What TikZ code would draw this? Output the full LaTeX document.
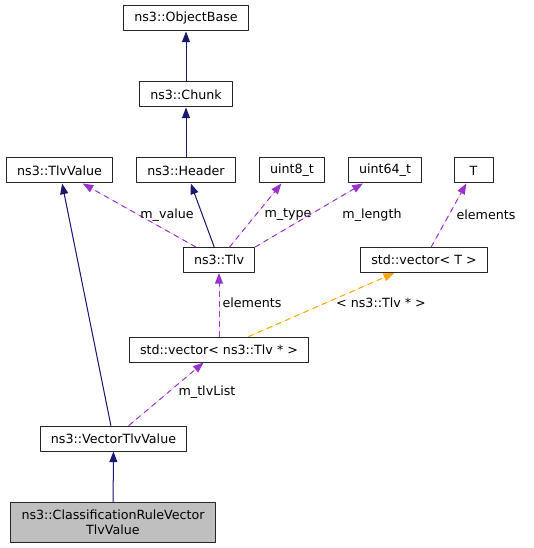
\documentclass[tikz,border=0pt]{standalone}
\usepackage{fontspec}
\setmainfont{DejaVu Sans}
\usetikzlibrary{arrows.meta}
\definecolor{midblue}{HTML}{191970}
\definecolor{usepurple}{HTML}{9A32CD}
\definecolor{tmplorange}{HTML}{FFA500}
\definecolor{grayfill}{HTML}{BFBFBF}

\begin{document}
\begin{tikzpicture}[line cap=round,line join=round,>={Triangle[length=8pt,width=6pt]},x=0.75pt,y=-0.75pt,
  cls/.style={draw=black!85,line width=0.75pt,fill=white,minimum height=18.75pt,inner xsep=8pt,inner ysep=0pt,font=\fontsize{9.5}{11.25}\selectfont},
  lbl/.style={inner sep=0pt,font=\fontsize{9.5}{11.25}\selectfont},
  inh/.style={->,draw=midblue,fill=midblue,line width=0.75pt},
  use/.style={->,draw=usepurple,fill=usepurple,line width=0.75pt,dash pattern=on 3.75pt off 3.75pt},
  tmpl/.style={->,draw=tmplorange,fill=tmplorange,line width=0.75pt,dash pattern=on 3.75pt off 3.75pt}]
\useasboundingbox (0,0) rectangle (533,548);
% classes
\node[cls] (objbase) at (186,18.5) {ns3::ObjectBase};
\node[cls] (chunk) at (186,94.5) {ns3::Chunk};
\node[cls] (tlvvalue) at (59.5,170.5) {ns3::TlvValue};
\node[cls] (header) at (186,170.5) {ns3::Header};
\node[cls] (uinteight) at (292,170.5) {uint8\_t};
\node[cls] (uintsixfour) at (385,170.5) {uint64\_t};
\node[cls,minimum width=29.25pt] (tparam) at (473.5,170.5) {T};
\node[cls] (tlv) at (219,260) {ns3::Tlv};
\node[cls] (vect) at (424,260) {std::vector< T >};
\node[cls] (vectlv) at (219,349.5) {std::vector< ns3::Tlv * >};
\node[cls] (vectlvvalue) at (113.5,438.5) {ns3::VectorTlvValue};
\node[cls,fill=grayfill,align=center,minimum height=30pt] (rule) at (113,522) {ns3::ClassificationRuleVector\\TlvValue};
% inheritance
\draw[inh] (chunk) -- (objbase);
\draw[inh] (header) -- (chunk);
\draw[inh] (tlv) -- (header);
\draw[inh] (vectlvvalue) -- (tlvvalue);
\draw[inh] (rule) -- (vectlvvalue);
% members
\draw[use] (tlv) -- (tlvvalue);
\node[lbl] (lvalue) at (167,215) {m\_value};
\draw[use] (tlv) -- (uinteight);
\node[lbl] (ltype) at (288,215) {m\_type};
\draw[use] (tlv.north east) -- (uintsixfour);
\node[lbl] (llength) at (372,215) {m\_length};
\draw[use] (vect) -- (tparam);
\node[lbl] (lelem) at (486,215) {elements};
\draw[use] (vectlv) -- (tlv);
\node[lbl] (lelemtlv) at (252,303) {elements};
\draw[tmpl] (vectlv) -- (vect);
\node[lbl] (ltmpl) at (381,303) {< ns3::Tlv * >};
\draw[use] (vectlvvalue) -- (vectlv);
\node[lbl] (llist) at (207,392) {m\_tlvList};
\end{tikzpicture}
\end{document}
